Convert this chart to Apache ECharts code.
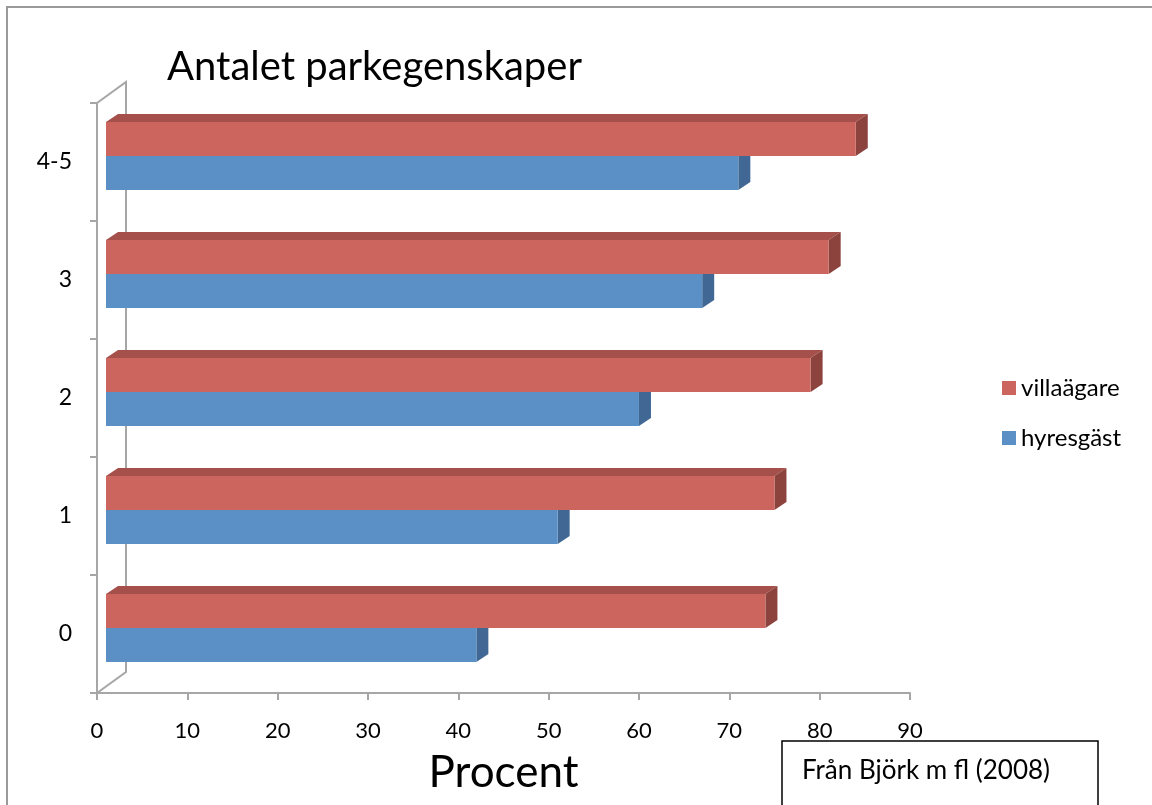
<!DOCTYPE html>
<html>
<head>
<meta charset="utf-8">
<script src="https://cdn.jsdelivr.net/npm/echarts@6/dist/echarts.min.js"></script>
<style>
  html, body { margin: 0; padding: 0; background: #fff; }
  #box { width: 1152px; height: 805px; }
</style>
</head>
<body>
<div id="box"></div>
<script>
// kategorier (antal parkegenskaper), nerifrån och upp
var categories = ['0', '1', '2', '3', '4-5'];
var villaagare = [73, 74, 78, 80, 83];
var hyresgast = [41, 50, 59, 66, 70];
var xTicks = [0, 10, 20, 30, 40, 50, 60, 70, 80, 90];

var FONT = 'Lato, "Open Sans", sans-serif';

// 3D-känsla: staplarna ligger lite in i djupet
var shiftX = 9;     // framsidans förskjutning från axeln
var depthX = 12, depthY = -8;  // stapelns djup
var wallX = 29, wallY = -21;   // bakväggens förskjutning

function bar3d(topFrac, front, top, side) {
    return function(params, api) {
        var val = api.value(0);
        var cat = api.value(1);
        var start = api.coord([0, cat]);
        var end = api.coord([val, cat]);
        var band = api.size([0, 1])[1];
        var y0 = start[1] + band * topFrac;
        var h = band * 0.288;
        var x0 = start[0] + shiftX;
        var x1 = end[0] + shiftX;
        return {
            type: 'group',
            children: [{
                type: 'polygon',
                shape: { points: [[x0, y0], [x0 + depthX, y0 + depthY], [x1 + depthX, y0 + depthY], [x1, y0]] },
                style: { fill: top }
            }, {
                type: 'polygon',
                shape: { points: [[x1, y0], [x1 + depthX, y0 + depthY], [x1 + depthX, y0 + h + depthY], [x1, y0 + h]] },
                style: { fill: side }
            }, {
                type: 'rect',
                shape: { x: x0, y: y0, width: x1 - x0, height: h },
                style: { fill: front }
            }]
        };
    };
}

// bakväggen: linje bakom staplarna, kopplad till framaxeln
function wall(params, api) {
    var band = api.size([0, 1])[1];
    var topPt = api.coord([0, categories.length - 1]);
    var botPt = api.coord([0, 0]);
    var x = topPt[0];
    var yTop = topPt[1] - band / 2;
    var yBot = botPt[1] + band / 2;
    return {
        type: 'polyline',
        shape: { points: [[x, yTop], [x + wallX, yTop + wallY], [x + wallX, yBot + wallY], [x, yBot]] },
        style: { stroke: '#a6a6a6', lineWidth: 2, fill: null }
    };
}

var myChart = echarts.init(document.getElementById('box'));
var option = {
    animation: false,
    backgroundColor: '#fff',
    title: {
        text: 'Antalet parkegenskaper',
        left: 162,
        top: 42,
        textStyle: { fontFamily: FONT, fontSize: 40, fontWeight: 'normal', color: '#000' }
    },
    legend: {
        orient: 'vertical',
        left: 997,
        top: 371,
        itemWidth: 14,
        itemHeight: 14,
        itemGap: 26,
        icon: 'rect',
        data: ['villaägare', 'hyresgäst'],
        textStyle: { fontFamily: FONT, fontSize: 24, color: '#000' }
    },
    grid: { left: 97, top: 103, width: 813, height: 590, containLabel: false },
    xAxis: {
        type: 'value',
        min: 0,
        max: 90,
        interval: 10,
        name: 'Procent',
        nameLocation: 'middle',
        nameGap: 58,
        nameTextStyle: { fontFamily: FONT, fontSize: 44, color: '#000' },
        axisLine: { show: true, lineStyle: { color: '#a6a6a6', width: 2 } },
        axisTick: { show: true, length: 7, lineStyle: { color: '#a6a6a6', width: 2 } },
        splitLine: { show: false },
        axisLabel: {
            margin: 27,
            fontFamily: FONT, fontSize: 22, color: '#000',
            formatter: function(v) { return xTicks.indexOf(v) >= 0 ? String(v) : ''; }
        }
    },
    yAxis: {
        type: 'category',
        data: categories,
        axisLine: { show: true, lineStyle: { color: '#a6a6a6', width: 2 } },
        axisTick: { show: true, length: 7, lineStyle: { color: '#a6a6a6', width: 2 } },
        axisLabel: { margin: 25, fontFamily: FONT, fontSize: 23, color: '#000' }
    },
    graphic: [{
        type: 'rect',
        shape: { x: 7, y: 7, width: 1200, height: 900 },
        style: { fill: null, stroke: '#9a9a9a', lineWidth: 2 },
        z: 100
    }, {
        type: 'rect',
        shape: { x: 782, y: 741, width: 316, height: 100 },
        style: { fill: '#fff', stroke: '#000', lineWidth: 1.5 },
        z: 101
    }, {
        type: 'text',
        x: 802,
        y: 771,
        style: { text: 'Från Björk m fl (2008)', fontFamily: FONT, fontSize: 26, fill: '#000', verticalAlign: 'middle' },
        z: 102
    }],
    series: [{
        name: 'vägg',
        type: 'custom',
        silent: true,
        renderItem: wall,
        data: [[0, 0]],
        encode: { x: 0, y: 1 },
        z: 1
    }, {
        name: 'hyresgäst',
        type: 'custom',
        renderItem: bar3d(-0.051, '#5b90c6', '#4a76a8', '#416894'),
        itemStyle: { color: '#5b90c6' },
        data: hyresgast.map(function(v, i) { return [v, i]; }),
        encode: { x: 0, y: 1 },
        z: 2
    }, {
        name: 'villaägare',
        type: 'custom',
        renderItem: bar3d(-0.339, '#cb655d', '#a5504a', '#8c423d'),
        itemStyle: { color: '#cb655d' },
        data: villaagare.map(function(v, i) { return [v, i]; }),
        encode: { x: 0, y: 1 },
        z: 3
    }]
};
myChart.setOption(option);
</script>
</body>
</html>
